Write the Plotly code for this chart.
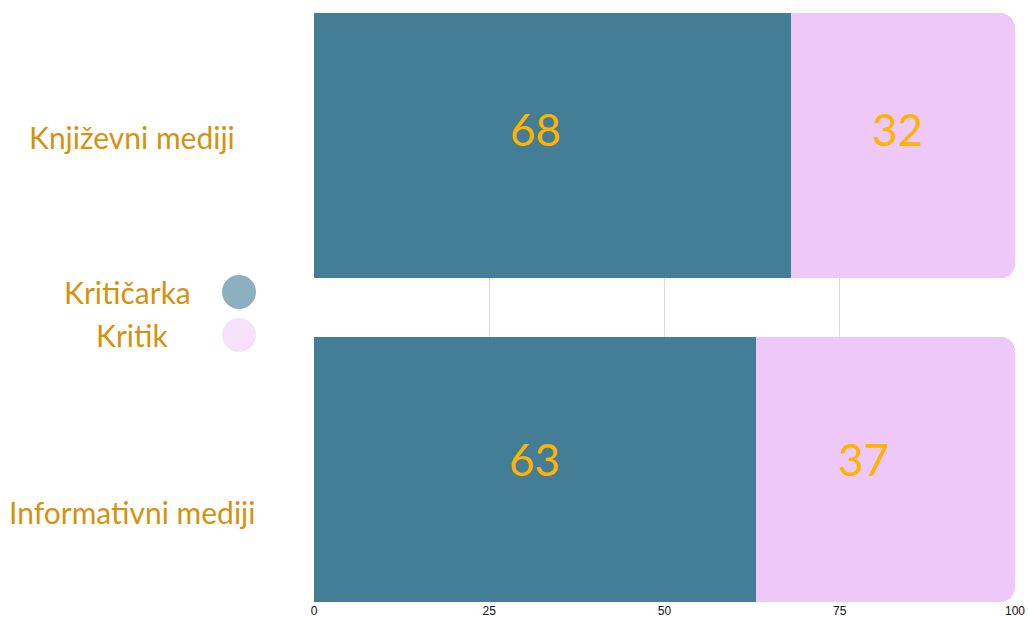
import plotly.graph_objects as go

categories = ["Informativni mediji", "Književni mediji"]
series_names = ["Kritičarka", "Kritik"]
kriticarka = [63, 68]
kritik = [37, 32]
x_ticks = [0, 25, 50, 75, 100]

colors = ["#437E96", "#EEC8F8"]
label_color = "#D4920F"
value_color = "#FFB300"

fig = go.Figure()
for name, vals, col in zip(series_names, [kriticarka, kritik], colors):
    fig.add_trace(go.Bar(
        y=list(range(len(categories))), x=vals, name=name, orientation="h",
        marker=dict(color=col, line=dict(width=0)), showlegend=False,
        hoverinfo="x+name",
    ))

# value labels
ann = []
for i in range(len(categories)):
    starts = [0, kriticarka[i]]
    for j, vals in enumerate([kriticarka, kritik]):
        ann.append(dict(
            x=starts[j] + vals[i] / 2, y=i, xref="x", yref="y",
            text=str(vals[i]), showarrow=False,
            font=dict(family="Lato", size=44, color=value_color),
            yshift=17 if i == 1 else 10,
            xshift=(-17 if j == 0 else -5) if i == 1 else (0 if j == 0 else -22),
        ))

# category labels (left)
cat_y = {0: 512, 1: 137}
for i, c in enumerate(categories):
    ann.append(dict(
        x=132, y=cat_y[i], xref="paper", yref="paper", text=c, showarrow=False,
        font=dict(family="Lato", size=30, color=label_color),
        xanchor="center", yanchor="middle",
    ))

# legend
leg_y = [292, 335]
leg_fill = ["#8DB0C0", "#F5E2FA"]
shapes = []
for name, ly, fc, col in zip(series_names, leg_y, leg_fill, colors):
    ann.append(dict(
        x=127 if name == "Kritičarka" else 132, y=ly, xref="paper", yref="paper",
        text=name, showarrow=False,
        font=dict(family="Lato", size=30, color=label_color),
        xanchor="center", yanchor="middle",
    ))
    shapes.append(dict(
        type="circle", xref="paper", yref="paper", xsizemode="pixel", ysizemode="pixel",
        xanchor=239, yanchor=ly, x0=-17, x1=17, y0=-17, y1=17,
        fillcolor=fc, line=dict(width=0),
    ))

W, H = 1029, 617
L, R, T, B = 314, 14, 13, 15
pw, ph = W - L - R, H - T - B

for a in ann:
    if a["xref"] == "paper":
        a["x"] = (a["x"] - L) / pw
        a["y"] = 1 - (a["y"] - T) / ph
for s in shapes:
    s["xanchor"] = (s["xanchor"] - L) / pw
    s["yanchor"] = 1 - (s["yanchor"] - T) / ph

fig.update_layout(
    width=W, height=H,
    margin=dict(l=L, r=R, t=T, b=B, autoexpand=False),
    barmode="stack", bargap=0.18, barcornerradius=15,
    plot_bgcolor="white", paper_bgcolor="white",
    annotations=ann, shapes=shapes, showlegend=False,
    xaxis=dict(range=[0, 100], tickvals=x_ticks, showgrid=True, gridcolor="#D9D9D9",
               gridwidth=1, zeroline=False, showline=False, ticks="",
               tickfont=dict(family="Liberation Sans Narrow, Liberation Sans", size=12, color="#111"),
               automargin=False, fixedrange=True),
    yaxis=dict(range=[-0.41, 1.41], showticklabels=False, showgrid=False, zeroline=False,
               automargin=False, fixedrange=True),
)

fig.write_html("out.html", config={"displayModeBar": False},
               post_script="document.body.style.margin='0';document.body.style.overflow='hidden';")
